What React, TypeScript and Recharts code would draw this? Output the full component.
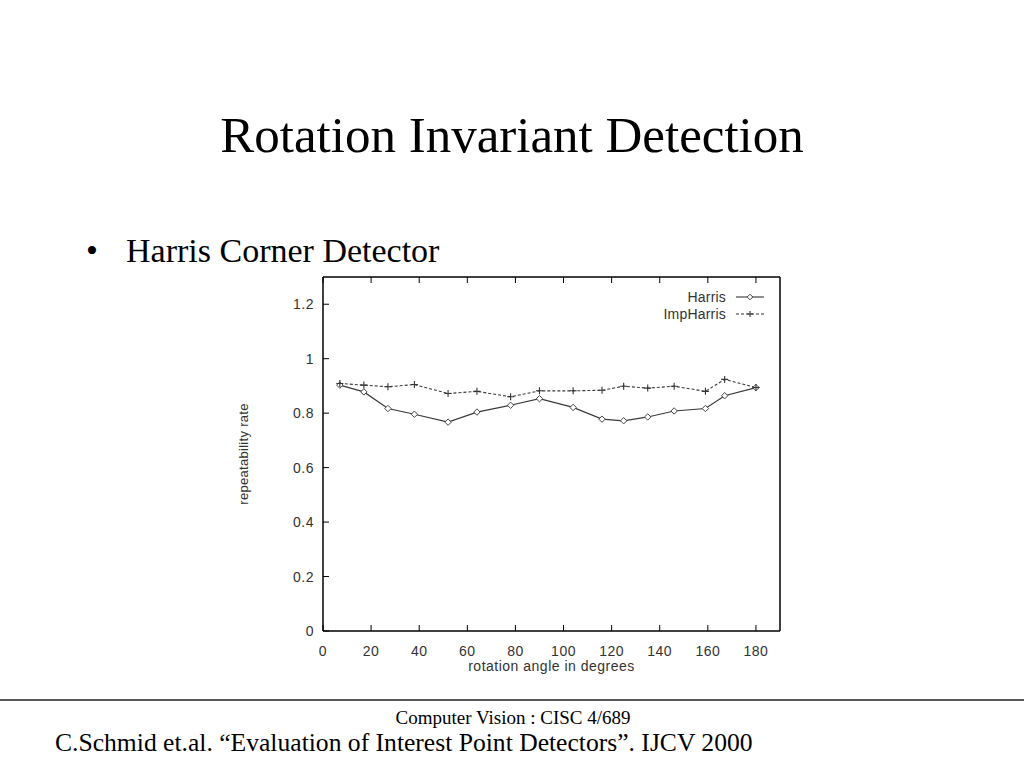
import React from 'react';
import { LineChart, Line, XAxis, YAxis, Legend } from 'recharts';

const angles = [7, 17, 27, 38, 52, 64, 78, 90, 104, 116, 125, 135, 146, 159, 167, 180];
const harris = [0.903, 0.878, 0.817, 0.796, 0.767, 0.804, 0.829, 0.853, 0.821, 0.778, 0.772, 0.786, 0.808, 0.817, 0.864, 0.894];
const impHarris = [0.909, 0.903, 0.897, 0.905, 0.872, 0.88, 0.86, 0.882, 0.882, 0.884, 0.899, 0.892, 0.899, 0.88, 0.924, 0.894];
const xTicks = [0, 20, 40, 60, 80, 100, 120, 140, 160, 180];
const yTicks = [0, 0.2, 0.4, 0.6, 0.8, 1, 1.2];

const data = angles.map((a, i) => ({ angle: a, harris: harris[i], impHarris: impHarris[i] }));

const INK = '#333';
const SANS = '"Liberation Sans", Arial, sans-serif';
const SERIF = '"Liberation Serif", "Times New Roman", serif';
const TICK = 6;

const BottomTick = (props: any) => {
  const { x, y, payload } = props;
  return (
    <g>
      <line x1={x} y1={y} x2={x} y2={y - TICK} stroke="#000" strokeWidth={1} />
      <text x={x} y={y + 25} textAnchor="middle" fontSize={14} fill={INK} fontFamily={SANS} letterSpacing={0.5}>
        {payload.value}
      </text>
    </g>
  );
};

const TopTick = (props: any) => {
  const { x, y } = props;
  return <line x1={x} y1={y} x2={x} y2={y + TICK} stroke="#000" strokeWidth={1} />;
};

const LeftTick = (props: any) => {
  const { x, y, payload } = props;
  return (
    <g>
      <line x1={x} y1={y} x2={x + TICK} y2={y} stroke="#000" strokeWidth={1} />
      <text x={x - 9} y={y + 5} textAnchor="end" fontSize={14} fill={INK} fontFamily={SANS} letterSpacing={0.5}>
        {payload.value}
      </text>
    </g>
  );
};

const RightTick = (props: any) => {
  const { x, y } = props;
  return <line x1={x} y1={y} x2={x - TICK} y2={y} stroke="#000" strokeWidth={1} />;
};

const Diamond = ({ cx, cy, r = 3.2 }: any) => (
  <path
    d={`M${cx},${cy - r}L${cx + r},${cy}L${cx},${cy + r}L${cx - r},${cy}Z`}
    fill="#fff"
    stroke="#444"
    strokeWidth={1}
  />
);

const Plus = ({ cx, cy, r = 3.5 }: any) => (
  <path d={`M${cx - r},${cy}H${cx + r}M${cx},${cy - r}V${cy + r}`} stroke="#333" strokeWidth={1.1} fill="none" />
);

const renderDiamond = (p: any) => <Diamond key={`d${p.index}`} cx={p.cx} cy={p.cy} />;
const renderPlus = (p: any) => <Plus key={`p${p.index}`} cx={p.cx} cy={p.cy} />;

const LegendBox = (props: any) => {
  const items = props.payload || [];
  return (
    <svg width={290} height={40} style={{ display: 'block' }}>
      {items.map((it: any, i: number) => {
        const y = 10 + i * 17;
        const dashed = it.dataKey === 'impHarris';
        return (
          <g key={it.value}>
            <text x={240} y={y + 4.5} textAnchor="end" fontSize={14} fill={INK} fontFamily={SANS} letterSpacing={0.2}>
              {it.value}
            </text>
            <line x1={250} y1={y} x2={278} y2={y} stroke="#333" strokeWidth={1.1} strokeDasharray={dashed ? '3 2' : undefined} />
            {dashed ? <Plus cx={264} cy={y} r={3} /> : <Diamond cx={264} cy={y} r={2.8} />}
          </g>
        );
      })}
    </svg>
  );
};

export default function App() {
  return (
    <div style={{ position: 'relative', width: 1024, height: 768, background: '#fff', overflow: 'hidden' }}>
      <style>{`body{margin:0}`}</style>
      <svg width={1024} height={768} style={{ position: 'absolute', left: 0, top: 0 }}>
        <text x={512} y={152} textAnchor="middle" fontSize={51} fontFamily={SERIF} fill="#000">
          Rotation Invariant Detection
        </text>
        <text x={86} y={262} fontSize={34} fontFamily={SERIF} fill="#000">•</text>
        <text x={126} y={262} fontSize={34} fontFamily={SERIF} fill="#000">
          Harris Corner Detector
        </text>
        <line x1={0} y1={700} x2={1024} y2={700} stroke="#222" strokeWidth={1.5} />
        <text x={513} y={724} textAnchor="middle" fontSize={19} fontFamily={SERIF} fill="#000">
          Computer Vision : CISC 4/689
        </text>
        <text x={55} y={751} fontSize={25.6} fontFamily={SERIF} fill="#000">
          C.Schmid et.al. “Evaluation of Interest Point Detectors”. IJCV 2000
        </text>
      </svg>
      <div style={{ position: 'absolute', left: 223, top: 267 }}>
        <LineChart width={577} height={414} data={data} margin={{ top: 9, right: 19, bottom: 0, left: 0 }}>
          <XAxis
            dataKey="angle"
            type="number"
            domain={[0, 190]}
            ticks={xTicks}
            height={50}
            tickSize={0}
            tickMargin={0}
            tick={<BottomTick />}
            axisLine={{ stroke: '#000', strokeWidth: 1.5 }}
            tickLine={false}
            label={{
              content: (p: any) => {
                const vb = p.viewBox;
                return (
                  <text x={vb.x + vb.width / 2} y={vb.y + 40} textAnchor="middle" fontSize={14} fill={INK} fontFamily={SANS} letterSpacing={0.5}>
                    rotation angle in degrees
                  </text>
                );
              },
            }}
          />
          <XAxis
            xAxisId="top"
            orientation="top"
            dataKey="angle"
            type="number"
            domain={[0, 190]}
            ticks={xTicks}
            height={1}
            tickSize={0}
            tickMargin={0}
            tick={<TopTick />}
            axisLine={{ stroke: '#000', strokeWidth: 1.5 }}
            tickLine={false}
          />
          <YAxis
            type="number"
            domain={[0, 1.3]}
            ticks={yTicks}
            width={100}
            tickSize={0}
            tickMargin={0}
            tick={<LeftTick />}
            axisLine={{ stroke: '#000', strokeWidth: 1.5 }}
            tickLine={false}
            label={{
              content: (p: any) => {
                const vb = p.viewBox;
                const cx = vb.x + 20;
                const cy = vb.y + vb.height / 2;
                return (
                  <text x={cx} y={cy} transform={`rotate(-90 ${cx} ${cy})`} textAnchor="middle" dominantBaseline="central" fontSize={13} fill={INK} fontFamily={SANS} letterSpacing={0.3}>
                    repeatability rate
                  </text>
                );
              },
            }}
          />
          <YAxis
            yAxisId="right"
            orientation="right"
            type="number"
            domain={[0, 1.3]}
            ticks={yTicks}
            width={1}
            tickSize={0}
            tickMargin={0}
            tick={<RightTick />}
            axisLine={{ stroke: '#000', strokeWidth: 1.5 }}
            tickLine={false}
          />
          <Legend
            layout="vertical"
            align="center"
            verticalAlign="middle"
            content={<LegendBox />}
            wrapperStyle={{ left: 263, top: 20, width: 290, height: 40 }}
          />
          <Line
            dataKey="harris"
            name="Harris"
            stroke="#3a3a3a"
            strokeWidth={1.2}
            dot={renderDiamond}
            activeDot={false}
            isAnimationActive={false}
          />
          <Line
            dataKey="impHarris"
            name="ImpHarris"
            stroke="#3a3a3a"
            strokeWidth={1.1}
            strokeDasharray="3 2"
            dot={renderPlus}
            activeDot={false}
            isAnimationActive={false}
          />
        </LineChart>
      </div>
    </div>
  );
}
